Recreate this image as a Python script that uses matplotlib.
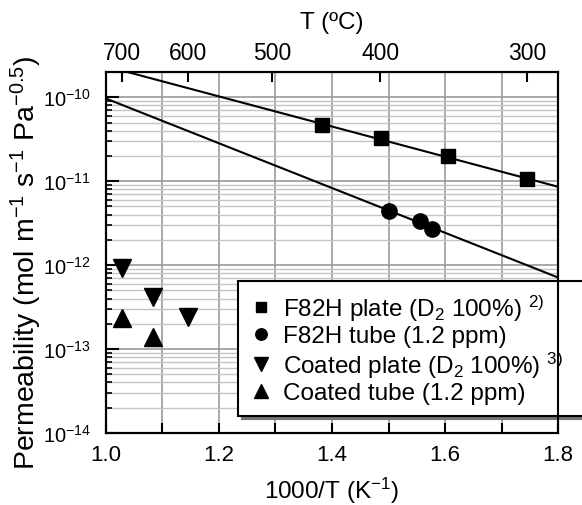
import numpy as np
import matplotlib
matplotlib.use("Agg")
import matplotlib.pyplot as plt
from matplotlib.ticker import LogLocator, MultipleLocator, NullFormatter, NullLocator

plt.rcParams['font.family'] = ['Liberation Sans', 'DejaVu Sans']
plt.rcParams['mathtext.fontset'] = 'custom'
plt.rcParams['mathtext.rm'] = 'Liberation Sans'
plt.rcParams['mathtext.it'] = 'Liberation Sans:italic'
plt.rcParams['mathtext.bf'] = 'Liberation Sans:bold'

# F82H plate (D2 100 %)
plate_x = [1.383, 1.486, 1.605, 1.745]
plate_p = [4.63e-11, 3.27e-11, 1.97e-11, 1.05e-11]
# F82H tube (1.2 ppm)
tube_x = [1.500, 1.555, 1.577]
tube_p = [4.42e-12, 3.39e-12, 2.69e-12]
# coated plate (D2 100 %)
cplate_x = [1.0276, 1.0829, 1.1452]
cplate_p = [9.31e-13, 4.15e-13, 2.42e-13]
# coated tube (1.2 ppm)
ctube_x = [1.0276, 1.0829]
ctube_p = [2.36e-13, 1.38e-13]

top_T = [700, 600, 500, 400, 300]

labels = ['F82H plate (D$_2$ 100%) $^{2)}$',
          'F82H tube (1.2 ppm)',
          'Coated plate (D$_2$ 100%) $^{3)}$',
          'Coated tube (1.2 ppm)']

xlim = (1.0, 1.8)
ylim = (1e-14, 2e-10)


def arrhenius_fit(x, p):
    k, b = np.polyfit(x, np.log10(p), 1)
    xs = np.array(xlim)
    return xs, 10 ** (k * xs + b)


fig = plt.figure(figsize=(5.82, 5.06), dpi=100)
ax = fig.add_axes([0.1821, 0.1423, 0.7767, 0.7134])
ax.set_yscale('log')

for x, p in [(plate_x, plate_p), (tube_x, tube_p)]:
    fx, fp = arrhenius_fit(x, p)
    ax.plot(fx, fp, color='black', lw=1.5, zorder=3)

h1, = ax.plot(plate_x, plate_p, 's', color='black', ms=10.5, ls='none', zorder=4)
h2, = ax.plot(tube_x, tube_p, 'o', color='black', ms=11, ls='none', zorder=4)
h3, = ax.plot(cplate_x, cplate_p, 'v', color='black', ms=12.5, ls='none', zorder=4)
h4, = ax.plot(ctube_x, ctube_p, '^', color='black', ms=12.5, ls='none', zorder=4)

ax.set_xlim(*xlim)
ax.set_ylim(*ylim)
ax.xaxis.set_major_locator(MultipleLocator(0.2))
ax.xaxis.set_minor_locator(MultipleLocator(0.1))
ax.yaxis.set_major_locator(LogLocator(base=10, numticks=10))
ax.yaxis.set_minor_locator(LogLocator(base=10, subs=np.arange(2, 10), numticks=30))
ax.yaxis.set_minor_formatter(NullFormatter())

ax.set_axisbelow(True)
ax.grid(which='both', axis='x', color='#999999', lw=1.2)
ax.grid(which='major', axis='y', color='#999999', lw=1.2)
ax.grid(which='minor', axis='y', color='#c4c4c4', lw=1.0)

ax.tick_params(axis='y', which='major', direction='in', length=9, width=1.5,
               labelsize=14.5, pad=11, right=False)
ax.tick_params(axis='y', which='minor', direction='in', length=4.5, width=1.2, right=False)
ax.tick_params(axis='x', which='both', direction='in', length=7, width=1.5,
               labelsize=16, pad=8, top=False)
for s in ax.spines.values():
    s.set_linewidth(1.5)

ax.set_xlabel('1000/T (K$^{-1}$)', fontsize=17.5, labelpad=7)
ax.set_ylabel('Permeability (mol m$^{-1}$ s$^{-1}$ Pa$^{-0.5}$)', fontsize=20.5)
ax.yaxis.set_label_coords(-0.137, 0.474)

# temperature scale on top
ax2 = ax.twiny()
ax2.set_xlim(*xlim)
ax2.set_xticks([1000 / (t + 273.15) for t in top_T])
ax2.set_xticklabels([str(t) for t in top_T])
ax2.xaxis.set_minor_locator(NullLocator())
ax2.tick_params(axis='x', direction='in', length=7, width=1.5, labelsize=16.5, pad=6)
ax2.set_xlabel('T (ºC)', fontsize=17.5, labelpad=9)
for s in ax2.spines.values():
    s.set_linewidth(1.5)

leg = ax.legend([h1, h2, h3, h4], labels, loc='upper left',
                bbox_to_anchor=(0.409, 0.186, 0.595, 0.257),
                bbox_transform=fig.transFigure, mode='expand', borderaxespad=0,
                fontsize=17.5, markerscale=0.75, handlelength=0.9,
                handletextpad=0.45, labelspacing=0.1, borderpad=0.48,
                fancybox=False, framealpha=1, edgecolor='black',
                shadow={'ox': 2.5, 'oy': -2.5, 'color': '0.45', 'alpha': 1})
leg.get_frame().set_linewidth(1.5)

fig.savefig('out.png', dpi=100)
